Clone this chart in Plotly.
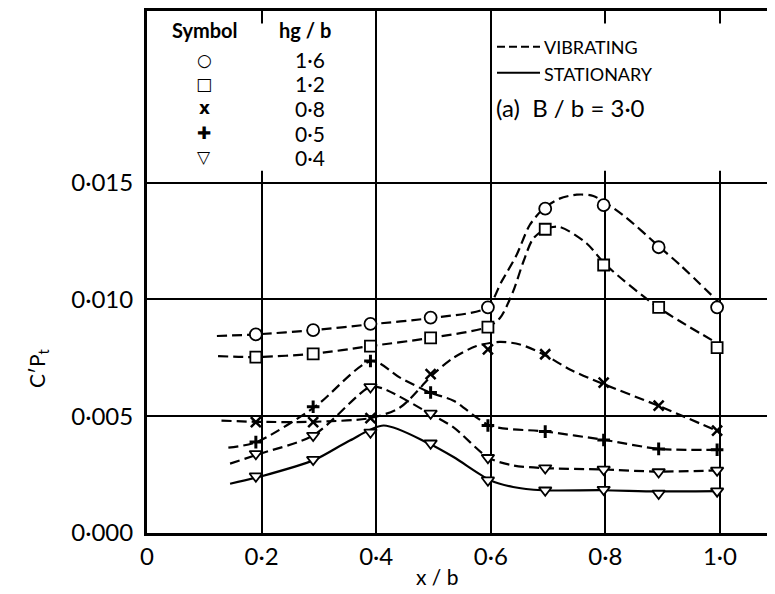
import plotly.graph_objects as go

x_pts = [0.19, 0.29, 0.39, 0.495, 0.595, 0.695, 0.797, 0.893, 0.995]

# measured C'p values for each hg/b
cp_16 = [0.0085, 0.00868, 0.00895, 0.00922, 0.00966, 0.01388, 0.01403, 0.01223, 0.00966]
cp_12 = [0.00753, 0.00767, 0.0080, 0.00835, 0.00881, 0.0130, 0.01147, 0.00966, 0.00793]
cp_08 = [0.00474, 0.00474, 0.00492, 0.0068, 0.00786, 0.00765, 0.00644, 0.00545, 0.00438]
cp_05 = [0.00389, 0.0054, 0.00736, 0.00601, 0.0046, 0.00434, 0.00398, 0.0036, 0.00356]
cp_04_vib = [0.00339, 0.00417, 0.00625, 0.00512, 0.00322, 0.00278, 0.00272, 0.00261, 0.00268]
cp_04_stat = [0.00243, 0.00314, 0.00431, 0.00384, 0.00226, 0.00183, 0.00186, 0.00169, 0.00179]

# faired curves, points
curve_16_x = [0.122, 0.19, 0.29, 0.39, 0.495, 0.593, 0.619, 0.645, 0.668, 0.692, 0.72, 0.75, 0.779, 0.831, 0.895, 0.93, 0.997]
curve_16_y = [0.00843, 0.0085, 0.00868, 0.00893, 0.0092, 0.00965, 0.01077, 0.0119, 0.01318, 0.01388, 0.01431, 0.01448, 0.01442, 0.0136, 0.01223, 0.01148, 0.0099]
curve_12_x = [0.124, 0.19, 0.29, 0.39, 0.495, 0.593, 0.616, 0.639, 0.657, 0.674, 0.695, 0.72, 0.767, 0.801, 0.892, 0.997]
curve_12_y = [0.00757, 0.00753, 0.00767, 0.0080, 0.00835, 0.00881, 0.0092, 0.01034, 0.01162, 0.0126, 0.0130, 0.0131, 0.0124, 0.01147, 0.00966, 0.0081]
curve_08_x = [0.13, 0.19, 0.29, 0.39, 0.4415, 0.4997, 0.535, 0.575, 0.616, 0.651, 0.692, 0.738, 0.79, 0.892, 0.994]
curve_08_y = [0.00481, 0.00476, 0.00476, 0.00492, 0.00537, 0.0068, 0.0075, 0.0080, 0.00818, 0.00807, 0.00765, 0.0070, 0.00644, 0.00545, 0.00438]
curve_05_x = [0.142, 0.191, 0.293, 0.392, 0.4415, 0.494, 0.535, 0.599, 0.696, 0.799, 0.894, 1.0]
curve_05_y = [0.00365, 0.00389, 0.0054, 0.00736, 0.00665, 0.00601, 0.00566, 0.0046, 0.00434, 0.00398, 0.0036, 0.00356]
curve_04v_x = [0.145, 0.197, 0.29, 0.389, 0.41, 0.493, 0.535, 0.596, 0.639, 0.692, 0.793, 0.893, 0.997]
curve_04v_y = [0.00297, 0.00339, 0.00417, 0.00625, 0.0062, 0.00512, 0.00452, 0.00322, 0.00289, 0.00278, 0.00272, 0.00263, 0.00268]
curve_04s_x = [0.145, 0.2, 0.293, 0.354, 0.413, 0.491, 0.535, 0.599, 0.639, 0.69, 0.795, 0.89, 0.997]
curve_04s_y = [0.00211, 0.00243, 0.00314, 0.00396, 0.0046, 0.00384, 0.00325, 0.00226, 0.00197, 0.00183, 0.00183, 0.00178, 0.00179]

# axis ticks
x_ticks = [0, 0.2, 0.4, 0.6, 0.8, 1.0]
x_tick_text = ["0", "0·2", "0·4", "0·6", "0·8", "1·0"]
y_ticks = [0.0, 0.005, 0.010, 0.015]
y_tick_text = ["0·000", "0·005", "0·010", "0·015"]

# symbol table
legend_symbols = ["○", "□", "x", "✚", "▽"]
legend_hgb = ["1·6", "1·2", "0·8", "0·5", "0·4"]

FONT = "Lato"
DASH = "10px,5px"

# the page has an 8px body margin, so the plot box is placed from the page corner
PLOT_L, PLOT_T = 147, 8
PLOT_W, PLOT_H = 636, 525


def px(x):
    """page pixel x -> paper x"""
    return (x - PLOT_L) / PLOT_W


def py(y):
    """page pixel y -> paper y"""
    return (PLOT_T + PLOT_H - y) / PLOT_H


def add_text(x, y, text, size, xanchor="center", angle=0, **kw):
    """text placed by page pixel position"""
    fig.add_annotation(x=px(x), y=py(y), xref="paper", yref="paper", text=text,
                       xanchor=xanchor, yanchor="middle", textangle=angle, showarrow=False,
                       font=dict(size=size, **kw))


fig = go.Figure()

series = [
    (curve_16_x, curve_16_y, cp_16, "circle", DASH, 12, 1.8),
    (curve_12_x, curve_12_y, cp_12, "square", DASH, 11, 1.8),
    (curve_08_x, curve_08_y, cp_08, "x-thin", DASH, 10, 2.5),
    (curve_05_x, curve_05_y, cp_05, "cross-thin", DASH, 9, 3),
    (curve_04v_x, curve_04v_y, cp_04_vib, "triangle-down", DASH, 11, 1.8),
    (curve_04s_x, curve_04s_y, cp_04_stat, "triangle-down", "solid", 11, 1.8),
]

for cx, cy, pts, symbol, dash, msize, mlw in series:
    # faired line
    fig.add_trace(
        go.Scatter(
            x=cx, y=cy, mode="lines",
            line=dict(color="black", width=2.2, dash=dash, shape="spline", smoothing=0.8),
            showlegend=False, hoverinfo="skip",
        )
    )
    # measured points
    fig.add_trace(
        go.Scatter(
            x=x_pts, y=pts, mode="markers",
            marker=dict(symbol=symbol, size=msize, color="white",
                        line=dict(color="black", width=mlw)),
            showlegend=False,
        )
    )

# white boxes hide the grid behind the two legends (short stubs remain)
for x0, x1 in [(0.003, 0.397), (0.603, 1.2)]:
    fig.add_shape(type="rect", xref="x", yref="y", x0=x0, x1=x1, y0=0.0155, y1=0.0218,
                  fillcolor="white", line=dict(width=0), layer="between")

# symbol table
add_text(205, 27, "<b>Symbol</b>", 20)
add_text(305, 27, "<b>hg / b</b>", 20)
row_y = [57, 81, 106, 131, 155]
for sym, val, yy in zip(legend_symbols, legend_hgb, row_y):
    add_text(204, yy, "<b>%s</b>" % sym, 17, family="DejaVu Sans")
    add_text(310, yy, val, 21)

# line style legend
fig.add_shape(type="line", xref="paper", yref="paper", x0=px(497), x1=px(540), y0=py(44), y1=py(44),
              line=dict(color="black", width=2, dash="8px,4px"))
fig.add_shape(type="line", xref="paper", yref="paper", x0=px(497), x1=px(540), y0=py(70), y1=py(70),
              line=dict(color="black", width=2))
add_text(542, 44, "VIBRATING", 18, xanchor="left")
add_text(542, 71, "STATIONARY", 18, xanchor="left")
add_text(494, 105, "(a)  B / b = 3·0", 24, xanchor="left")

# axis titles
add_text(38, 367, "C′P<sub>t</sub>", 21, angle=-90)
add_text(437, 577, "x / b", 21)

fig.update_layout(
    width=775, height=594,
    margin=dict(l=PLOT_L - 8, r=775 - (PLOT_L - 8) - PLOT_W, t=PLOT_T - 8,
                b=594 - (PLOT_T - 8) - PLOT_H),
    paper_bgcolor="white", plot_bgcolor="white",
    font=dict(family=FONT, color="black", size=24),
    showlegend=False,
    xaxis=dict(
        range=[0, 1.11], tickvals=x_ticks, ticktext=x_tick_text,
        showgrid=True, gridcolor="black", gridwidth=1.5, zeroline=False,
        showline=True, linecolor="black", linewidth=3, mirror=True,
        ticks="", ticklabelstandoff=0,
    ),
    yaxis=dict(
        range=[0, 0.02234], tickvals=y_ticks, ticktext=y_tick_text,
        showgrid=True, gridcolor="black", gridwidth=1.5, zeroline=False,
        showline=True, linecolor="black", linewidth=3,
        ticks="", ticklabelstandoff=6,
    ),
)

fig.write_html("out.html")
